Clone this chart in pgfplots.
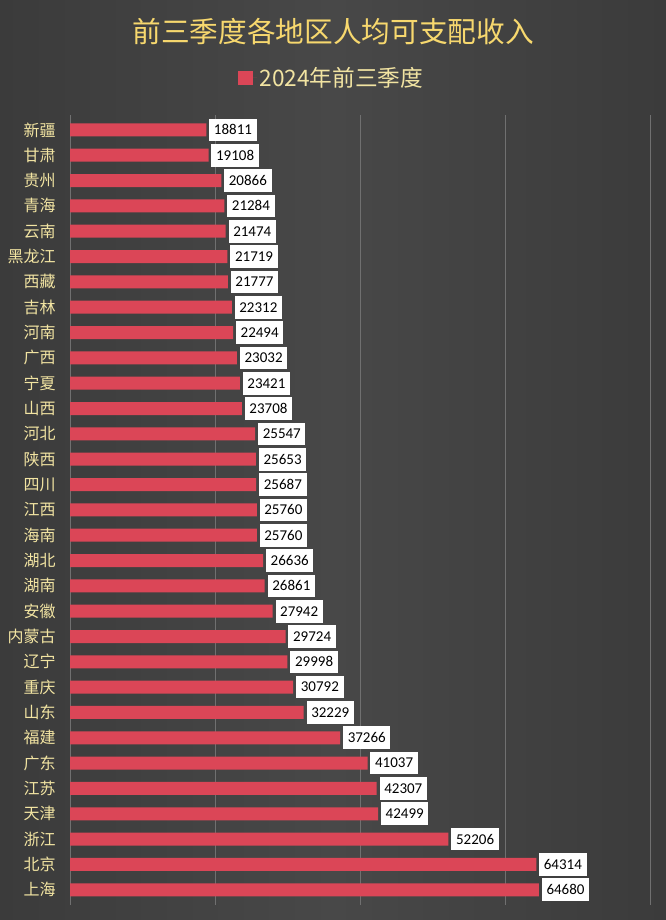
\documentclass[border=0pt]{standalone}
\usepackage{pgfplots}
\pgfplotsset{compat=1.18}
\usepackage{fontspec}
\setmainfont{Noto Sans CJK SC}
\newfontfamily\carlito{Carlito}
\definecolor{bgc}{HTML}{3B3B3B}
\definecolor{bgm}{HTML}{484848}
\definecolor{titlec}{HTML}{F7D86E}
\definecolor{labc}{HTML}{F2E4A2}
\definecolor{barc}{HTML}{DB4657}
\definecolor{gridc}{HTML}{707070}
\begin{document}
\begin{tikzpicture}
\useasboundingbox (0,0) rectangle (499.5pt,690pt);
\shade[left color=bgc, right color=bgc, middle color=bgm] (0,0) rectangle (499.5pt,690pt);
\node[text=titlec, font=\fontsize{21.5}{24}\selectfont] at (249.75pt,666pt) {前三季度各地区人均可支配收入};
\begin{axis}[
  at={(52.5pt,11.25pt)}, anchor=south west,
  scale only axis, width=435pt, height=592.7pt,
  xbar, bar width=9.75pt,
  xmin=0, xmax=80000,
  ymin=-0.6, ymax=30.6,
  xtick={0,20000,40000,60000,80000},
  xticklabels={},
  scaled x ticks=false,
  xmajorgrids,
  grid style={gridc, line width=0.6pt},
  axis line style={draw=none},
  major tick style={draw=none},
  ytick={0,...,30},
  yticklabels={上海,北京,浙江,天津,江苏,广东,福建,山东,重庆,辽宁,内蒙古,安徽,湖南,湖北,海南,江西,四川,陕西,河北,山西,宁夏,广西,河南,吉林,西藏,黑龙江,云南,青海,贵州,甘肃,新疆},
  yticklabel style={text=labc, font=\fontsize{12}{14}\selectfont, xshift=-3pt},
  point meta=x,
  nodes near coords={\pgfmathprintnumber[fixed,precision=0,1000 sep={},assume math mode=true]{\pgfplotspointmeta}},
  nodes near coords align={horizontal},
  every node near coord/.append style={fill=white, text=black, font=\carlito\fontsize{11.25}{13}\selectfont, inner xsep=3.5pt, minimum height=17pt, anchor=west, xshift=2pt},
  legend style={at={(0.452,1)}, anchor=center, yshift=27.6pt, draw=none, fill=none, text=labc, font=\fontsize{17}{20}\selectfont},
  legend image code/.code={\fill[barc] (0pt,-5.5pt) rectangle (11pt,5.5pt); \path (0pt,0pt) -- (14pt,0pt);},
]
\addplot[draw=none, fill=barc] coordinates {
(64680,0) (64314,1) (52206,2) (42499,3) (42307,4) (41037,5) (37266,6) (32229,7)
(30792,8) (29998,9) (29724,10) (27942,11) (26861,12) (26636,13) (25760,14) (25760,15)
(25687,16) (25653,17) (25547,18) (23708,19) (23421,20) (23032,21) (22494,22) (22312,23)
(21777,24) (21719,25) (21474,26) (21284,27) (20866,28) (19108,29) (18811,30)
};
\addlegendentry{2024年前三季度}
\end{axis}
\end{tikzpicture}
\end{document}
